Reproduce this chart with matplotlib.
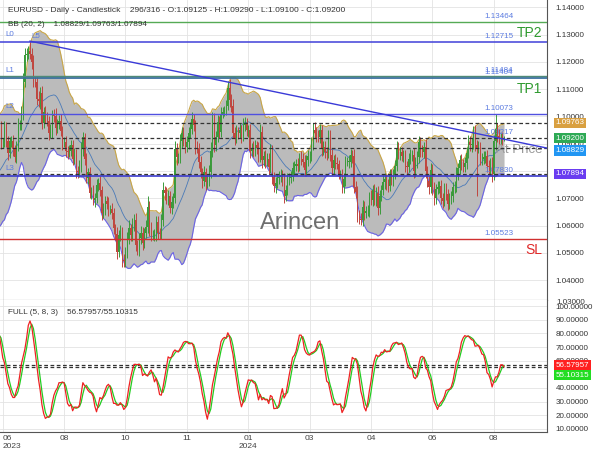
import numpy as np
import pandas as pd
import matplotlib
matplotlib.use('Agg')
import matplotlib.pyplot as plt
import matplotlib.transforms as mtransforms
from matplotlib.ticker import FormatStrFormatter

plt.rcParams['font.family'] = ['Liberation Sans', 'DejaVu Sans']

# EURUSD daily closes in pips (1e-4), 2023-05-23 .. 2024-08-12, one row per month
close_pips = [
    10770, 10750, 10725, 10723, 10705, 10735, 10690, 10763, 10710, 10710, 10693, 10698, 10780, 10750, 10750, 10790, 10830, 10946, 10940, 10922, 10920,
    10990, 10955, 10905, 10905, 10960, 10910, 10865, 10910,
    10910, 10880, 10852, 10890, 10970, 10970, 11010, 11128, 11225, 11228, 11240, 11230, 11200, 11130, 11125, 11065, 11055, 11085, 10975, 11017, 10995,
    10985, 10940, 10945, 11005, 11000, 10957, 10975, 10985, 10948, 10905, 10905, 10875, 10870, 10872, 10895, 10845, 10860, 10800, 10795, 10815, 10880, 10925, 10845,
    10775, 10795, 10720, 10725, 10695, 10700, 10750, 10755, 10730, 10645, 10660, 10690, 10680, 10660, 10660, 10645, 10590, 10570, 10505, 10565, 10575,
    10475, 10470, 10505, 10550, 10590, 10565, 10605, 10620, 10530, 10510, 10555, 10575, 10535, 10575, 10595, 10670, 10590, 10565, 10565, 10565, 10615, 10575,
    10570, 10620, 10730, 10720, 10700, 10710, 10665, 10685, 10700, 10880, 10850, 10850, 10910, 10940, 10910, 10890, 10905, 10940, 10955, 10990, 10970, 10890,
    10885, 10835, 10795, 10765, 10795, 10760, 10765, 10795, 10875, 10990, 10895, 10925, 10980, 10945, 11010, 11015, 11025, 11040, 11105, 11060, 11040,
    10940, 10920, 10945, 10940, 10950, 10930, 10970, 10975, 10950, 10950, 10875, 10885, 10875, 10895, 10885, 10855, 10945, 10840, 10855, 10835, 10845, 10815,
    10875, 10780, 10745, 10755, 10775, 10780, 10785, 10770, 10710, 10730, 10770, 10775, 10780, 10810, 10820, 10825, 10820, 10850, 10845, 10835, 10805,
    10840, 10855, 10855, 10900, 10950, 10940, 10930, 10925, 10950, 10880, 10890, 10870, 10865, 10925, 10860, 10810, 10840, 10830, 10825, 10790, 10790,
    10740, 10770, 10835, 10835, 10835, 10860, 10855, 10740, 10725, 10640, 10625, 10620, 10670, 10645, 10655, 10655, 10705, 10695, 10730, 10695, 10720, 10665,
    10710, 10730, 10760, 10770, 10750, 10745, 10785, 10770, 10790, 10820, 10885, 10865, 10870, 10855, 10855, 10820, 10815, 10845, 10860, 10860, 10800, 10830, 10850,
    10905, 10875, 10870, 10890, 10800, 10765, 10740, 10805, 10740, 10700, 10735, 10740, 10745, 10700, 10690, 10735, 10715, 10680, 10700, 10710,
    10740, 10740, 10790, 10810, 10840, 10825, 10815, 10830, 10865, 10905, 10895, 10900, 10940, 10895, 10885, 10890, 10845, 10845, 10850, 10855, 10820, 10815, 10825,
    10790, 10910, 10955, 10930, 10920, 10920, 10915, 10920,
]
# wick above max(open, close), in pips
upper_wick = [
    18, 22, 15, 20, 25, 12, 30, 14, 28, 16, 20, 19, 15, 24, 18, 26, 22, 30, 25, 18, 20,
    25, 20, 28, 15, 22, 18, 20, 16,
    18, 22, 15, 20, 24, 16, 28, 30, 25, 22, 18, 36, 20, 26, 18, 22, 30, 24, 28, 16, 20,
    22, 18, 26, 20, 24, 30, 16, 22, 25, 18, 20, 24, 16, 22, 18, 20, 26, 22, 18, 24, 28, 20, 16,
    22, 18, 20, 16, 24, 18, 22, 20, 26, 16, 22, 18, 20, 24, 16, 22, 20, 18, 24, 20, 26,
    20, 22, 18, 26, 30, 16, 24, 22, 28, 18, 20, 24, 22, 18, 26, 40, 20, 22, 18, 24, 20, 22,
    18, 24, 30, 16, 22, 20, 18, 24, 20, 30, 24, 18, 26, 22, 20, 16, 24, 22, 26, 28, 20, 18,
    22, 18, 20, 16, 24, 18, 20, 26, 30, 28, 24, 22, 26, 20, 24, 18, 12, 20, 26, 34, 24,
    24, 20, 22, 18, 26, 20, 24, 22, 18, 20, 22, 18, 24, 20, 16, 22, 26, 20, 18, 24, 22, 20,
    26, 20, 18, 22, 16, 20, 24, 18, 22, 20, 24, 18, 20, 22, 18, 20, 24, 18, 22, 20, 24,
    20, 22, 18, 24, 26, 30, 20, 22, 24, 18, 20, 22, 18, 26, 24, 20, 18, 22, 20, 16, 14,
    18, 22, 20, 16, 24, 20, 18, 26, 22, 20, 18, 22, 24, 20, 18, 22, 20, 24, 18, 22, 20, 24,
    20, 18, 26, 22, 18, 20, 24, 22, 18, 20, 26, 22, 18, 20, 22, 24, 18, 20, 22, 18, 24, 20, 22,
    24, 20, 22, 18, 26, 20, 18, 24, 22, 20, 18, 22, 20, 24, 18, 20, 22, 18, 20, 16,
    20, 22, 24, 18, 20, 22, 18, 20, 24, 26, 22, 20, 24, 28, 20, 22, 18, 20, 22, 18, 24, 20, 22,
    26, 24, 53, 22, 26, 20, 22, 9,
]
# wick below min(open, close), in pips
lower_wick = [
    20, 18, 25, 15, 22, 18, 28, 20, 16, 24, 18, 22, 20, 26, 18, 20, 24, 22, 28, 20, 18,
    22, 18, 24, 20, 16, 22, 26, 18,
    20, 24, 18, 22, 16, 20, 18, 24, 20, 22, 18, 20, 26, 22, 18, 24, 20, 26, 22, 18, 20,
    20, 26, 18, 22, 20, 24, 18, 22, 20, 26, 18, 22, 24, 20, 18, 22, 20, 26, 22, 18, 20, 24, 22,
    20, 24, 18, 22, 20, 26, 18, 22, 20, 24, 18, 22, 20, 26, 18, 22, 20, 24, 28, 20, 22,
    26, 22, 20, 24, 18, 22, 20, 26, 24, 18, 20, 22, 24, 18, 20, 22, 26, 20, 18, 22, 20, 24,
    20, 18, 22, 26, 20, 24, 18, 22, 20, 18, 26, 22, 20, 24, 18, 22, 20, 24, 18, 20, 22, 26,
    20, 24, 22, 26, 20, 28, 22, 18, 20, 22, 26, 20, 18, 24, 20, 16, 12, 20, 18, 24, 22,
    20, 24, 18, 22, 20, 26, 18, 22, 20, 24, 26, 20, 22, 18, 24, 20, 22, 28, 20, 22, 18, 24,
    22, 26, 20, 24, 18, 22, 20, 24, 26, 20, 18, 22, 20, 18, 24, 20, 22, 18, 24, 20, 22,
    22, 20, 24, 18, 22, 20, 24, 18, 22, 26, 20, 22, 24, 18, 22, 26, 20, 22, 18, 20, 16,
    22, 20, 24, 18, 22, 20, 26, 22, 24, 26, 20, 19, 22, 24, 18, 20, 22, 18, 24, 20, 22, 26,
    22, 20, 18, 24, 20, 22, 18, 20, 24, 18, 20, 22, 24, 18, 20, 22, 24, 20, 18, 22, 26, 20, 18,
    20, 24, 18, 22, 26, 22, 24, 20, 26, 24, 20, 18, 22, 20, 24, 18, 20, 22, 18, 20,
    22, 20, 18, 24, 20, 22, 18, 20, 22, 18, 20, 24, 18, 22, 178, 20, 22, 24, 18, 20, 22, 26, 24,
    30, 22, 34, 24, 20, 22, 18, 5,
]

# horizontal levels
tp_levels = [1.13464, 1.11484]
l_levels = [1.12715, 1.11404, 1.10073, 1.07830]
l_names = ['L0', 'L1', 'L2', 'L3']
sl_level = 1.05523
bb_last = [1.09763, 1.08829, 1.07894]   # upper / mid / lower
last_price = 1.09200
trend_label = 1.09217
trend_x = [40, 345]
trend_y = [1.1276, 1.0882]
stoch_last = [56.57957, 55.10315]       # %K / %D

tick_pos = [24, 60, 96, 132, 168, 204, 240, 276, 312]
tick_labels = ['06\n2023', '08', '10', '11', '01\n2024', '03', '04', '06', '08']

# ---- derived series
close = np.array(close_pips) / 1e4
open_ = np.r_[close[0], close[:-1]]
high = np.maximum(open_, close) + np.array(upper_wick) / 1e4
low = np.minimum(open_, close) - np.array(lower_wick) / 1e4
x = np.arange(len(close))

s = pd.Series(close)
bb_mid = s.rolling(20).mean()
bb_sd = s.rolling(20).std(ddof=0)
bb_up = bb_mid + 2 * bb_sd
bb_lo = bb_mid - 2 * bb_sd

hh = pd.Series(high).rolling(5).max()
ll = pd.Series(low).rolling(5).min()
fast_k = 100 * (s - ll) / (hh - ll)
full_k = fast_k.rolling(8).mean()
full_d = full_k.rolling(3).mean()

# ---- figure
fig = plt.figure(figsize=(6, 4.5), dpi=100)
ax = fig.add_axes([0, 150 / 450, 547 / 600, 300 / 450])
ax2 = fig.add_axes([0, 18 / 450, 547 / 600, 132 / 450], sharex=ax)

grid_c = '#e3e3e3'
for a in (ax, ax2):
    a.set_facecolor('white')
    a.grid(True, color=grid_c, lw=0.6)
    a.set_axisbelow(True)
    a.spines['left'].set_visible(False)
    a.spines['top'].set_visible(False)
    a.spines['right'].set_color('#555555')
    a.spines['bottom'].set_color('#555555')
    a.yaxis.tick_right()
    a.tick_params(axis='y', length=0, pad=6, labelsize=5.8, colors='#333333')
    a.yaxis.set_major_formatter(FormatStrFormatter('%.5f'))

# Bollinger bands
ax.fill_between(x, bb_up, bb_lo, color='#bbbbbb', lw=0, zorder=1)
ax.plot(x, bb_up, color='#c9a646', lw=0.8, zorder=2)
ax.plot(x, bb_lo, color='#6b63e6', lw=0.8, zorder=2)
ax.plot(x, bb_mid, color='#4a7ab8', lw=0.6, zorder=2)

ax.text(300 / 547, 1 - 223 / 300, 'Arincen', transform=ax.transAxes, fontsize=17,
        color='#6e6e6e', ha='center', va='center', zorder=2)
ax.text(542 / 547, 0.5, 'At Price', transform=ax.transAxes, fontsize=9.5,
        color='#9a9a9a', ha='right', va='center', zorder=2)

# candles
up = close >= open_
cols = np.where(up, '#3a9a3a', '#c0463f')
ax.vlines(x, low, high, colors=cols, lw=0.7, zorder=3)
ax.bar(x, np.maximum(np.abs(close - open_), 0.00006), bottom=np.minimum(open_, close),
       width=0.6, color=cols, lw=0, zorder=4)

# levels
trans = mtransforms.blended_transform_factory(ax.transAxes, ax.transData)
lvl_txt = dict(xycoords=trans, textcoords='offset points', fontsize=5.8,
               color='#5b7be0', ha='left', va='bottom', annotation_clip=False)

ax.axhline(tp_levels[0], color='#55aa55', lw=1.0, zorder=5)
ax.axhline(l_levels[0], color='#4040d8', lw=1.1, zorder=5)
ax.axhline(l_levels[1], color='#3a6fa0', lw=1.3, zorder=5)
ax.axhline(tp_levels[1], color='#4f8a78', lw=1.0, zorder=5)
ax.axhline(l_levels[2], color='#5050e0', lw=1.0, zorder=5)
ax.axhline(l_levels[3], color='#3a3ad0', lw=1.2, zorder=5)
ax.axhline(sl_level, color='#d03030', lw=1.0, zorder=5)
for v in bb_last + [last_price]:
    ax.axhline(v, color='#333333', lw=0.9, ls=(0, (3, 2)), zorder=5)
ax.plot(trend_x, trend_y, color='#3a3ad8', lw=1.0, zorder=5)

for v in tp_levels + l_levels + [sl_level]:
    ax.annotate(f'{v:.5f}', xy=(484 / 547, v), xytext=(0, 1.5), **lvl_txt)
ax.annotate(f'{trend_label:.5f}', xy=(484 / 547, trend_label), xytext=(0, 1.5), **lvl_txt)
for name, v in zip(l_names, l_levels):
    ax.annotate(name, xy=(5 / 547, v), xytext=(0, 3), **lvl_txt)
ax.annotate('L5', xy=(trend_x[0], trend_y[0]), xycoords='data', xytext=(1, 1),
            textcoords='offset points', fontsize=5.8, color='#5b7be0', va='bottom')

big = dict(xycoords=trans, textcoords='offset points', fontsize=10, ha='right', va='top')
ax.annotate('TP2', xy=(542 / 547, tp_levels[0]), xytext=(0, -3), color='#2e9a2e', **big)
ax.annotate('TP1', xy=(542 / 547, l_levels[1]), xytext=(0, -3), color='#2e9a2e', **big)
ax.annotate('SL', xy=(542 / 547, sl_level), xytext=(0, -3), color='#e02828', **big)

# right-axis value boxes
box_vals = [bb_last[0], last_price, bb_last[1], bb_last[2]]
box_cols = ['#d9a040', '#2eaa55', '#2196f3', '#6a3cf0']
box_dy = [0, 0, -1.5, 0]
for v, c, dy in zip(box_vals, box_cols, box_dy):
    ax.annotate(f'{v:.5f}', xy=(1.0, v), xycoords=trans, xytext=(6.3, dy),
                textcoords='offset points', ha='left', va='center', fontsize=5.8,
                color='white', annotation_clip=False,
                bbox=dict(boxstyle='square,pad=0.2', fc=c, ec='none'))

ax.set_yticks(np.arange(1.04, 1.1401, 0.01))
ax.set_ylim(1.03278, 1.14267)
ax.set_xlim(22.4, 343.2)
ax.tick_params(axis='x', bottom=False, labelbottom=False)

# stochastic panel
ax2.plot(x, full_d, color='#22cc22', lw=0.9, zorder=3)
ax2.plot(x, full_k, color='#ee2222', lw=0.9, zorder=3)
for v in stoch_last:
    ax2.axhline(v, color='#333333', lw=0.9, ls=(0, (3, 2)), zorder=2)
trans2 = mtransforms.blended_transform_factory(ax2.transAxes, ax2.transData)
for v, c, dy in zip(stoch_last, ['#ff2020', '#22dd22'], [0, -7.2]):
    ax2.annotate(f'{v:.5f}', xy=(1.0, stoch_last[0]), xycoords=trans2, xytext=(6.3, dy),
                 textcoords='offset points', ha='left', va='center', fontsize=5.8,
                 color='white', annotation_clip=False,
                 bbox=dict(boxstyle='square,pad=0.2', fc=c, ec='none'))
ax2.set_yticks(np.arange(10, 101, 10))
ax2.set_ylim(7.8, 104.4)
ax2.set_xticks(tick_pos)
ax2.set_xticklabels(tick_labels)
ax2.tick_params(axis='x', length=0, pad=2, labelsize=6, colors='#444444')
ax2.get_xticklabels()[0].set_ha('left')

# header texts
fig.text(8 / 600, 1 - 10 / 450,
         'EURUSD - Daily - Candlestick    296/316 - O:1.09125 - H:1.09290 - L:1.09100 - C:1.09200',
         fontsize=6.0, color='#333333', va='center')
fig.text(8 / 600, 1 - 25 / 450, 'BB (20, 2)    1.08829/1.09763/1.07894',
         fontsize=5.9, color='#333333', va='center')
fig.text(8 / 600, 1 - 312 / 450, 'FULL (5, 8, 3)    56.57957/55.10315',
         fontsize=5.9, color='#333333', va='center')
fig.text(556 / 600, 1 - 302 / 450, '1.03000', fontsize=5.8, color='#333333', va='center')

fig.savefig('out.png', dpi=100)
